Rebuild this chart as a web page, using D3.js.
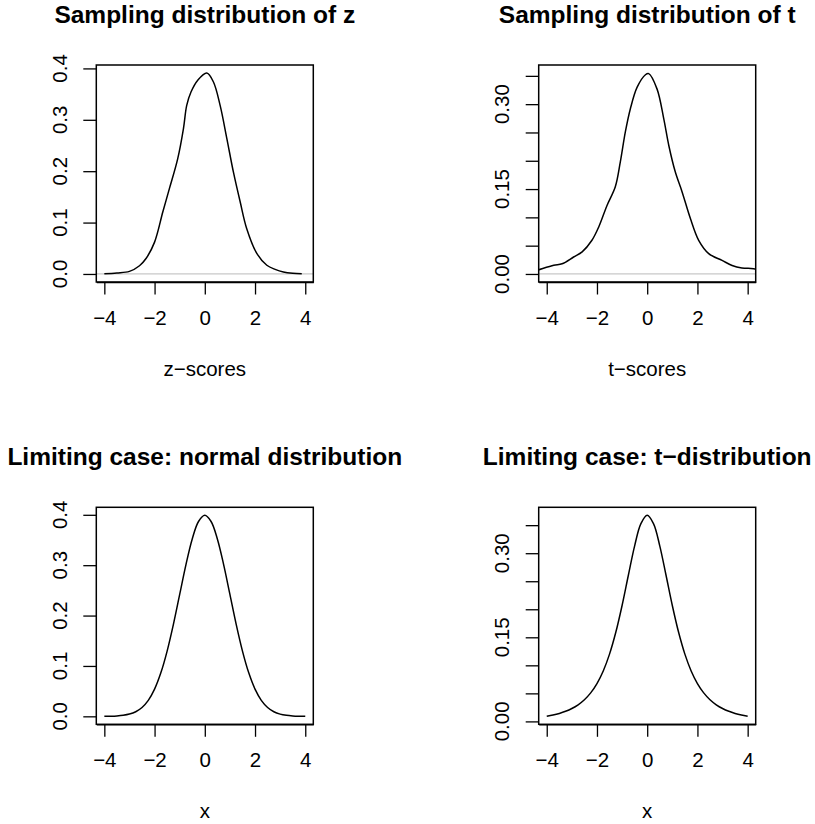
<!DOCTYPE html>
<html>
<head>
<meta charset="utf-8">
<script src="https://cdn.jsdelivr.net/npm/d3@7"></script>
<style>
  body { margin: 0; background: #fff; }
  svg text { font-family: "Liberation Sans", Arial, Helvetica, sans-serif; fill: #000; }
  .title { font-weight: bold; font-size: 24.5px; }
  .lab { font-size: 20.5px; }
  .axis text { font-size: 20.5px; font-family: "Liberation Sans", Arial, Helvetica, sans-serif; }
  .axis path, .axis line { stroke: #000; stroke-width: 1.3; }
</style>
</head>
<body>
<script>
// canvas
var w = 815;
var h = 824;

// plot box size and positions (two columns, two rows)
var boxW = 217;
var boxH = 217;
var colX = [96.3, 538.7];
var rowY = [65, 507.3];

// shared x axis
var xLim = [-4, 4];
var xTicks = [-4, -2, 0, 2, 4];

// panel 1: density of simulated z-scores
var zScoreX  = [-4.0, -3.5, -3.0, -2.6, -2.34, -2.0, -1.67, -1.41, -1.08, -0.85, -0.72, -0.55, -0.28,
                0.08, 0.34, 0.61, 0.88, 1.14, 1.41, 1.67, 2.07, 2.47, 2.8, 3.13, 3.5, 3.86];
var zDensity = [0.0005, 0.002, 0.005, 0.016, 0.030, 0.062, 0.121, 0.166, 0.224, 0.283, 0.328, 0.354, 0.377,
                0.391, 0.374, 0.328, 0.263, 0.198, 0.140, 0.088, 0.040, 0.017, 0.009, 0.004, 0.0015, 0.0006];
var zYLim = [0, 0.391];
var zYTicks = [0, 0.1, 0.2, 0.3, 0.4];

// panel 2: density of simulated t-scores
var tScoreX  = [-4.6, -4.39, -3.72, -3.39, -2.93, -2.59, -2.2, -1.93, -1.6, -1.27, -1.07, -0.87, -0.67, -0.40, -0.07,
                0.06, 0.39, 0.66, 0.86, 1.12, 1.39, 1.72, 2.05, 2.45, 2.98, 3.38, 3.77, 4.24, 4.6];
var tDensity = [0.004, 0.0065, 0.0153, 0.018, 0.030, 0.039, 0.0595, 0.083, 0.121, 0.154, 0.198, 0.251, 0.292, 0.330, 0.352,
                0.354, 0.327, 0.274, 0.227, 0.180, 0.145, 0.098, 0.0595, 0.036, 0.024, 0.015, 0.0106, 0.0094, 0.006];
var tYLim = [0, 0.355];
var tYTicks = [0, 0.05, 0.10, 0.15, 0.20, 0.25, 0.30, 0.35];
var tYLabelled = [0, 0.15, 0.30];

// panels 3 and 4: limiting curves
var limitX = [-4, -3.75, -3.5, -3.25, -3, -2.75, -2.5, -2.25, -2, -1.75, -1.5, -1.25, -1, -0.75, -0.5, -0.25,
              0, 0.25, 0.5, 0.75, 1, 1.25, 1.5, 1.75, 2, 2.25, 2.5, 2.75, 3, 3.25, 3.5, 3.75, 4];
var normDensity = [0.00013, 0.00035, 0.00087, 0.00203, 0.00443, 0.00909, 0.01753, 0.03174, 0.05399, 0.08628,
                   0.12952, 0.18265, 0.24197, 0.30114, 0.35207, 0.38667, 0.39894, 0.38667, 0.35207, 0.30114,
                   0.24197, 0.18265, 0.12952, 0.08628, 0.05399, 0.03174, 0.01753, 0.00909, 0.00443, 0.00203,
                   0.00087, 0.00035, 0.00013];
var tDistDensity = [0.00916, 0.01136, 0.01422, 0.01798, 0.02297, 0.02965, 0.03866, 0.05089, 0.06751, 0.09000,
                    0.12002, 0.15891, 0.20675, 0.26064, 0.31318, 0.35270, 0.36755, 0.35270, 0.31318, 0.26064,
                    0.20675, 0.15891, 0.12002, 0.09000, 0.06751, 0.05089, 0.03866, 0.02965, 0.02297, 0.01798,
                    0.01422, 0.01136, 0.00916];

var panels = [
  { title: "Sampling distribution of z", xlab: "z\u2212scores", xs: zScoreX, ys: zDensity,
    ylim: zYLim, yTicks: zYTicks, yLab: zYTicks, fmt: d3.format(".1f"), zeroLine: true, col: 0, row: 0 },
  { title: "Sampling distribution of t", xlab: "t\u2212scores", xs: tScoreX, ys: tDensity,
    ylim: tYLim, yTicks: tYTicks, yLab: tYLabelled, fmt: d3.format(".2f"), zeroLine: true, col: 1, row: 0 },
  { title: "Limiting case: normal distribution", xlab: "x", xs: limitX, ys: normDensity,
    ylim: d3.extent(normDensity), yTicks: zYTicks, yLab: zYTicks, fmt: d3.format(".1f"), zeroLine: false, col: 0, row: 1 },
  { title: "Limiting case: t\u2212distribution", xlab: "x", xs: limitX, ys: tDistDensity,
    ylim: d3.extent(tDistDensity), yTicks: tYTicks, yLab: tYLabelled, fmt: d3.format(".2f"), zeroLine: false, col: 1, row: 1 }
];

// R style 4% padding of the axis range
var pad = function(lim) {
  var r = lim[1] - lim[0];
  return [lim[0] - 0.04 * r, lim[1] + 0.04 * r];
};

var svg = d3.select("body")
            .append("svg")
            .attr("width", w)
            .attr("height", h);

panels.forEach(function(p, i) {
  var x0 = colX[p.col];
  var y0 = rowY[p.row];

  var scaleX = d3.scaleLinear().domain(pad(xLim)).range([x0, x0 + boxW]);
  var scaleY = d3.scaleLinear().domain(pad(p.ylim)).range([y0 + boxH, y0]);

  // clip to plot region
  svg.append("clipPath")
     .attr("id", "clip" + i)
     .append("rect")
     .attr("x", x0).attr("y", y0)
     .attr("width", boxW).attr("height", boxH);

  var g = svg.append("g").attr("clip-path", "url(#clip" + i + ")");

  if (p.zeroLine) {
    g.append("line")
     .attr("x1", x0).attr("x2", x0 + boxW)
     .attr("y1", scaleY(0)).attr("y2", scaleY(0))
     .attr("stroke", "#c8c8c8")
     .attr("stroke-width", 1.3);
  }

  var line = d3.line()
               .x(function(d) { return scaleX(d[0]); })
               .y(function(d) { return scaleY(d[1]); })
               .curve(d3.curveCatmullRom.alpha(0.5));

  g.append("path")
   .datum(p.xs.map(function(v, k) { return [v, p.ys[k]]; }))
   .attr("d", line)
   .attr("fill", "none")
   .attr("stroke", "#000")
   .attr("stroke-width", 1.5);

  // x axis
  var axisX = d3.axisBottom(scaleX)
                .tickValues(xTicks)
                .tickSize(12.5)
                .tickSizeOuter(0)
                .tickPadding(16)
                .tickFormat(function(d) { return d < 0 ? "\u2212" + Math.abs(d) : d; });
  svg.append("g")
     .attr("class", "axis")
     .attr("transform", "translate(0," + (y0 + boxH) + ")")
     .call(axisX);

  // y axis: ticks only, labels drawn rotated below
  var axisY = d3.axisLeft(scaleY)
                .tickValues(p.yTicks)
                .tickSize(13)
                .tickSizeOuter(0)
                .tickFormat("");
  svg.append("g")
     .attr("class", "axis")
     .attr("transform", "translate(" + x0 + ",0)")
     .call(axisY)
     .select(".domain").remove();

  p.yLab.forEach(function(v) {
    svg.append("text")
       .attr("class", "lab")
       .attr("transform", "translate(" + (x0 - 29.5) + "," + scaleY(v) + ") rotate(-90)")
       .attr("text-anchor", "middle")
       .text(p.fmt(v));
  });

  // box
  svg.append("rect")
     .attr("x", x0).attr("y", y0)
     .attr("width", boxW).attr("height", boxH)
     .attr("fill", "none")
     .attr("stroke", "#000")
     .attr("stroke-width", 1.5);

  // title and x label
  svg.append("text")
     .attr("class", "title")
     .attr("x", x0 + boxW / 2)
     .attr("y", y0 - 42)
     .attr("text-anchor", "middle")
     .text(p.title);

  svg.append("text")
     .attr("class", "lab")
     .attr("x", x0 + boxW / 2)
     .attr("y", y0 + boxH + 93.5)
     .attr("text-anchor", "middle")
     .text(p.xlab);
});
</script>
</body>
</html>
